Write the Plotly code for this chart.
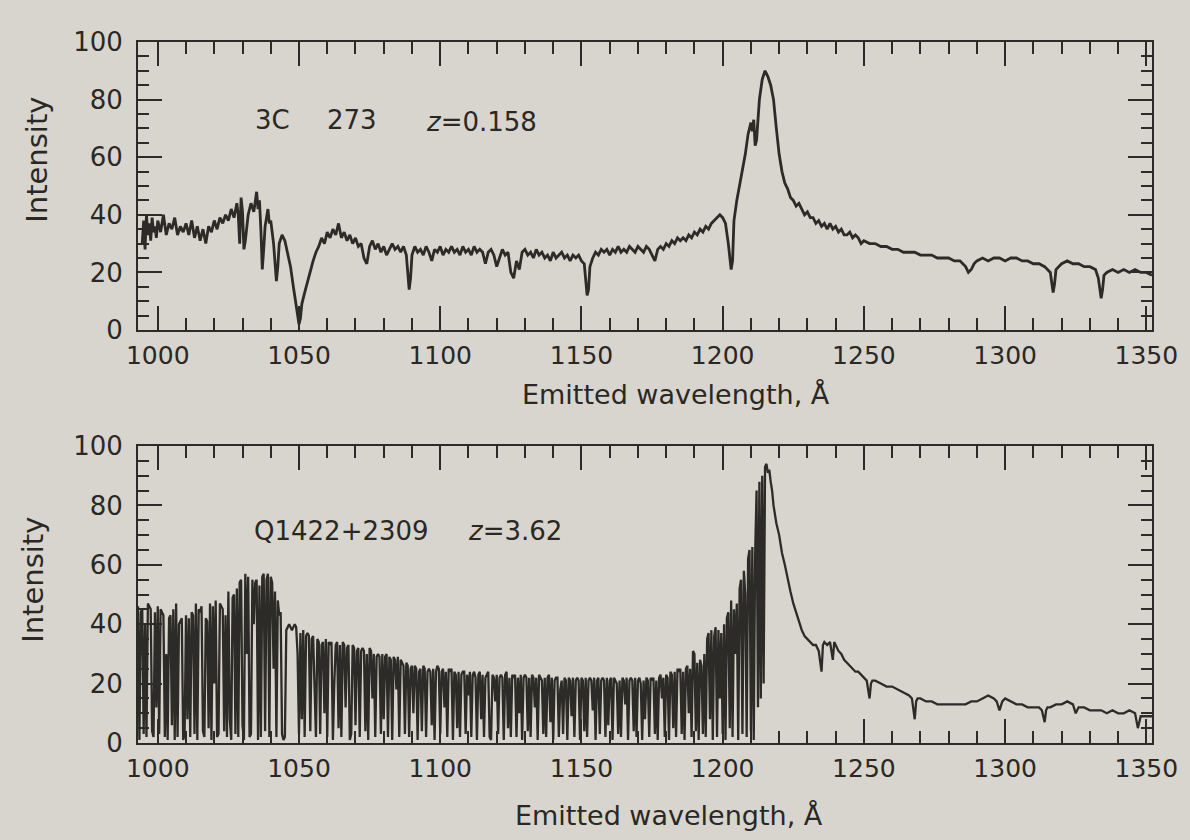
import plotly.graph_objects as go

# ---------------- data: 3C 273 (z = 0.158) ----------------
top_wave = [
    994.5, 995, 995.5, 996, 996.5, 997, 997.5, 998, 998.5, 999,
    999.5, 1000, 1001, 1002, 1003, 1004, 1005, 1006, 1007, 1008,
    1009, 1010, 1011, 1012, 1013, 1014, 1015, 1016, 1017, 1018,
    1019, 1020, 1021, 1022, 1023, 1024, 1025, 1026, 1027, 1028,
    1028.5, 1029, 1029.5, 1030, 1030.5, 1031, 1032, 1033, 1034, 1035,
    1035.5, 1036, 1036.5, 1037, 1037.5, 1038, 1039, 1039.5, 1040, 1041,
    1042, 1042.5, 1043, 1044, 1045, 1046, 1047, 1048, 1049, 1050,
    1050.5, 1051, 1052, 1053, 1054, 1055, 1056, 1057, 1058, 1059,
    1060, 1061, 1062, 1063, 1064, 1065, 1066, 1067, 1068, 1069,
    1070, 1071, 1072, 1073, 1074, 1075, 1076, 1077, 1078, 1079,
    1080, 1081, 1082, 1083, 1084, 1085, 1086, 1087, 1088, 1089,
    1089.5, 1090, 1091, 1092, 1093, 1094, 1095, 1096, 1097, 1098,
    1099, 1100, 1101, 1102, 1103, 1104, 1105, 1106, 1107, 1108,
    1109, 1110, 1111, 1112, 1113, 1114, 1115, 1116, 1117, 1118,
    1119, 1120, 1121, 1122, 1123, 1124, 1125, 1126, 1127, 1128,
    1129, 1130, 1131, 1132, 1133, 1134, 1135, 1136, 1137, 1138,
    1139, 1140, 1141, 1142, 1143, 1144, 1145, 1146, 1147, 1148,
    1149, 1150, 1151, 1152, 1152.5, 1153, 1154, 1155, 1156, 1157,
    1158, 1159, 1160, 1161, 1162, 1163, 1164, 1165, 1166, 1167,
    1168, 1169, 1170, 1171, 1172, 1173, 1174, 1175, 1176, 1177,
    1178, 1179, 1180, 1181, 1182, 1183, 1184, 1185, 1186, 1187,
    1188, 1189, 1190, 1191, 1192, 1193, 1194, 1195, 1196, 1197,
    1198, 1199, 1200, 1201, 1202, 1203, 1203.5, 1204, 1205, 1206,
    1207, 1208, 1209, 1210, 1210.5, 1211, 1211.5, 1212, 1213, 1214,
    1215, 1216, 1217, 1218, 1219, 1220, 1221, 1222, 1223, 1224,
    1225, 1226, 1227, 1228, 1229, 1230, 1231, 1232, 1233, 1234,
    1235, 1236, 1237, 1238, 1239, 1240, 1241, 1242, 1243, 1244,
    1245, 1246, 1247, 1248, 1249, 1250, 1252, 1254, 1256, 1258,
    1260, 1262, 1264, 1266, 1268, 1270, 1272, 1274, 1276, 1278,
    1280, 1282, 1284, 1286, 1287, 1288, 1289, 1290, 1292, 1294,
    1296, 1298, 1300, 1302, 1304, 1306, 1308, 1310, 1312, 1314,
    1316, 1317, 1317.5, 1318, 1320, 1322, 1324, 1326, 1328, 1330,
    1332, 1333, 1334, 1334.5, 1335, 1336, 1338, 1340, 1342, 1344,
    1346, 1348, 1350, 1352,
]
top_int = [
    30, 38, 28, 40, 33, 37, 31, 39, 34, 36,
    32, 38, 34, 40, 33, 37, 35, 39, 33, 36,
    34, 37, 33, 38, 32, 36, 31, 35, 30, 36,
    34, 38, 35, 39, 37, 40, 38, 42, 39, 44,
    40, 30, 46, 41, 28, 31, 40, 44, 41, 48,
    42, 45, 35, 21, 28, 36, 42, 37, 38, 30,
    17, 22, 30, 33, 31, 27, 22, 15, 8, 2,
    4, 9, 13, 17, 20, 24, 27, 29, 32, 30,
    34, 32, 35, 33, 37, 32, 34, 31, 33, 30,
    32, 29, 30, 25, 23, 29, 31, 28, 30, 27,
    29, 26, 28, 30, 28, 29, 27, 29, 26, 14,
    18, 26, 29, 27, 28, 26, 29, 27, 24, 28,
    27, 29, 26, 28, 27, 29, 27, 28, 26, 29,
    27, 28, 26, 29, 27, 28, 27, 23, 27, 28,
    26, 22, 25, 28, 26, 27, 20, 18, 24, 21,
    27, 28, 26, 27, 25, 28, 26, 27, 25, 26,
    24, 27, 25, 26, 27, 25, 26, 24, 26, 25,
    26, 24, 23, 12, 14, 22, 25, 27, 26, 28,
    27, 28, 26, 28, 27, 29, 27, 28, 27, 29,
    28, 27, 29, 28, 27, 29, 28, 26, 24, 28,
    29, 28, 30, 29, 31, 30, 32, 31, 32, 31,
    33, 32, 34, 33, 35, 34, 36, 35, 37, 38,
    39, 40, 39, 37, 30, 21, 24, 38, 45, 50,
    55, 61, 68, 72, 69, 73, 64, 66, 80, 87,
    90, 88, 85, 80, 70, 61, 55, 51, 49, 46,
    45, 43, 44, 42, 40, 41, 39, 39, 37, 38,
    36, 37, 35, 37, 35, 36, 34, 35, 33, 33,
    34, 32, 33, 32, 30, 31, 30, 30, 29, 29,
    28, 28, 27, 27, 27, 26, 26, 26, 25, 25,
    25, 24, 24, 22, 20, 21, 23, 24, 25, 24,
    25, 25, 24, 25, 25, 24, 24, 23, 23, 22,
    20, 13, 16, 21, 23, 24, 23, 23, 22, 22,
    21, 18, 11, 14, 19, 20, 21, 20, 21, 20,
    21, 20, 20, 19,
]

# ---------------- data: Q1422+2309 (z = 3.62) ----------------
bot_wave = [
    992.0, 992.5, 993.0, 993.5, 994.0, 994.5, 995.0, 995.5, 996.0, 996.5,
    997.0, 997.5, 998.0, 998.5, 999.0, 999.5, 1000.0, 1000.5, 1001.0, 1001.5,
    1002.0, 1002.5, 1003.0, 1003.5, 1004.0, 1004.5, 1005.0, 1005.5, 1006.0, 1006.5,
    1007.0, 1007.5, 1008.0, 1008.5, 1009.0, 1009.5, 1010.0, 1010.5, 1011.0, 1011.5,
    1012.0, 1012.5, 1013.0, 1013.5, 1014.0, 1014.5, 1015.0, 1015.5, 1016.0, 1016.5,
    1017.0, 1017.5, 1018.0, 1018.5, 1019.0, 1019.5, 1020.0, 1020.5, 1021.0, 1021.5,
    1022.0, 1022.5, 1023.0, 1023.5, 1024.0, 1024.5, 1025.0, 1025.5, 1026.0, 1026.5,
    1027.0, 1027.5, 1028.0, 1028.5, 1029.0, 1029.5, 1030.0, 1030.5, 1031.0, 1031.5,
    1032.0, 1032.5, 1033.0, 1033.5, 1034.0, 1034.5, 1035.0, 1035.5, 1036.0, 1036.5,
    1037.0, 1037.5, 1038.0, 1038.5, 1039.0, 1039.5, 1040.0, 1040.5, 1041.0, 1041.5,
    1042.0, 1042.5, 1043.0, 1043.5, 1044.0, 1044.5, 1045.0, 1045.5, 1046.0, 1046.5,
    1047.0, 1047.5, 1048.0, 1048.5, 1049.0, 1049.5, 1050.0, 1050.5, 1051.0, 1051.5,
    1052.0, 1052.5, 1053.0, 1053.5, 1054.0, 1054.5, 1055.0, 1055.5, 1056.0, 1056.5,
    1057.0, 1057.5, 1058.0, 1058.5, 1059.0, 1059.5, 1060.0, 1060.5, 1061.0, 1061.5,
    1062.0, 1062.5, 1063.0, 1063.5, 1064.0, 1064.5, 1065.0, 1065.5, 1066.0, 1066.5,
    1067.0, 1067.5, 1068.0, 1068.5, 1069.0, 1069.5, 1070.0, 1070.5, 1071.0, 1071.5,
    1072.0, 1072.5, 1073.0, 1073.5, 1074.0, 1074.5, 1075.0, 1075.5, 1076.0, 1076.5,
    1077.0, 1077.5, 1078.0, 1078.5, 1079.0, 1079.5, 1080.0, 1080.5, 1081.0, 1081.5,
    1082.0, 1082.5, 1083.0, 1083.5, 1084.0, 1084.5, 1085.0, 1085.5, 1086.0, 1086.5,
    1087.0, 1087.5, 1088.0, 1088.5, 1089.0, 1089.5, 1090.0, 1090.5, 1091.0, 1091.5,
    1092.0, 1092.5, 1093.0, 1093.5, 1094.0, 1094.5, 1095.0, 1095.5, 1096.0, 1096.5,
    1097.0, 1097.5, 1098.0, 1098.5, 1099.0, 1099.5, 1100.0, 1100.5, 1101.0, 1101.5,
    1102.0, 1102.5, 1103.0, 1103.5, 1104.0, 1104.5, 1105.0, 1105.5, 1106.0, 1106.5,
    1107.0, 1107.5, 1108.0, 1108.5, 1109.0, 1109.5, 1110.0, 1110.5, 1111.0, 1111.5,
    1112.0, 1112.5, 1113.0, 1113.5, 1114.0, 1114.5, 1115.0, 1115.5, 1116.0, 1116.5,
    1117.0, 1117.5, 1118.0, 1118.5, 1119.0, 1119.5, 1120.0, 1120.5, 1121.0, 1121.5,
    1122.0, 1122.5, 1123.0, 1123.5, 1124.0, 1124.5, 1125.0, 1125.5, 1126.0, 1126.5,
    1127.0, 1127.5, 1128.0, 1128.5, 1129.0, 1129.5, 1130.0, 1130.5, 1131.0, 1131.5,
    1132.0, 1132.5, 1133.0, 1133.5, 1134.0, 1134.5, 1135.0, 1135.5, 1136.0, 1136.5,
    1137.0, 1137.5, 1138.0, 1138.5, 1139.0, 1139.5, 1140.0, 1140.5, 1141.0, 1141.5,
    1142.0, 1142.5, 1143.0, 1143.5, 1144.0, 1144.5, 1145.0, 1145.5, 1146.0, 1146.5,
    1147.0, 1147.5, 1148.0, 1148.5, 1149.0, 1149.5, 1150.0, 1150.5, 1151.0, 1151.5,
    1152.0, 1152.5, 1153.0, 1153.5, 1154.0, 1154.5, 1155.0, 1155.5, 1156.0, 1156.5,
    1157.0, 1157.5, 1158.0, 1158.5, 1159.0, 1159.5, 1160.0, 1160.5, 1161.0, 1161.5,
    1162.0, 1162.5, 1163.0, 1163.5, 1164.0, 1164.5, 1165.0, 1165.5, 1166.0, 1166.5,
    1167.0, 1167.5, 1168.0, 1168.5, 1169.0, 1169.5, 1170.0, 1170.5, 1171.0, 1171.5,
    1172.0, 1172.5, 1173.0, 1173.5, 1174.0, 1174.5, 1175.0, 1175.5, 1176.0, 1176.5,
    1177.0, 1177.5, 1178.0, 1178.5, 1179.0, 1179.5, 1180.0, 1180.5, 1181.0, 1181.5,
    1182.0, 1182.5, 1183.0, 1183.5, 1184.0, 1184.5, 1185.0, 1185.5, 1186.0, 1186.5,
    1187.0, 1187.5, 1188.0, 1188.5, 1189.0, 1189.5, 1190.0, 1190.5, 1191.0, 1191.5,
    1192.0, 1192.5, 1193.0, 1193.5, 1194.0, 1194.5, 1195.0, 1195.5, 1196.0, 1196.5,
    1197.0, 1197.5, 1198.0, 1198.5, 1199.0, 1199.5, 1200.0, 1200.5, 1201.0, 1201.5,
    1202.0, 1202.5, 1203.0, 1203.5, 1204.0, 1204.5, 1205.0, 1205.5, 1206.0, 1206.5,
    1207.0, 1207.5, 1208.0, 1208.5, 1209.0, 1209.5, 1210.0, 1210.5, 1211.0, 1211.5,
    1212.0, 1212.5, 1213.0, 1213.5, 1214.0, 1214.5, 1215.0, 1215.5, 1216.0, 1216.5,
    1217.0, 1217.5, 1218.0, 1218.5, 1219.0, 1220.0, 1221.0, 1222.0, 1223.0, 1224.0,
    1225.0, 1226.0, 1227.0, 1228.0, 1229.0, 1230.0, 1231.0, 1232.0, 1233.0, 1234.0,
    1235.0, 1235.5, 1236.0, 1237.0, 1238.0, 1239.0, 1239.5, 1240.0, 1241.0, 1242.0,
    1243.0, 1244.0, 1245.0, 1246.0, 1247.0, 1248.0, 1249.0, 1250.0, 1251.0, 1252.0,
    1252.5, 1253.0, 1254.0, 1256.0, 1258.0, 1260.0, 1262.0, 1264.0, 1266.0, 1267.0,
    1268.0, 1268.5, 1269.0, 1270.0, 1272.0, 1274.0, 1276.0, 1278.0, 1280.0, 1282.0,
    1284.0, 1286.0, 1288.0, 1290.0, 1292.0, 1294.0, 1296.0, 1297.0, 1298.0, 1299.0,
    1300.0, 1302.0, 1304.0, 1306.0, 1308.0, 1310.0, 1312.0, 1313.0, 1314.0, 1314.5,
    1315.0, 1316.0, 1318.0, 1320.0, 1322.0, 1324.0, 1325.0, 1326.0, 1328.0, 1330.0,
    1332.0, 1334.0, 1336.0, 1338.0, 1340.0, 1342.0, 1344.0, 1346.0, 1347.0, 1348.0,
    1350.0, 1352.0,
]
bot_int = [
    43, 5, 46, 1, 44, 45, 3, 40, 2, 47,
    46, 45, 4, 2, 44, 12, 46, 3, 45, 44,
    43, 2, 30, 1, 42, 43, 6, 45, 1, 47,
    2, 40, 41, 42, 1, 3, 43, 8, 42, 2,
    44, 43, 3, 47, 1, 45, 44, 46, 4, 2,
    42, 41, 5, 47, 1, 46, 20, 48, 2, 3,
    47, 46, 45, 4, 43, 2, 51, 8, 1, 49,
    50, 3, 52, 2, 54, 55, 6, 1, 57, 30,
    56, 2, 3, 55, 40, 54, 55, 1, 53, 2,
    56, 57, 4, 55, 57, 2, 56, 54, 25, 51,
    2, 48, 43, 44, 3, 1, 2, 38, 39, 40,
    39, 38, 39, 40, 39, 30, 3, 37, 8, 38,
    2, 36, 37, 36, 4, 35, 36, 14, 2, 35,
    34, 3, 33, 34, 10, 35, 2, 34, 33, 34,
    1, 20, 33, 34, 5, 33, 2, 34, 33, 12,
    32, 33, 1, 3, 33, 32, 6, 31, 32, 2,
    31, 32, 31, 4, 30, 1, 32, 31, 15, 30,
    2, 29, 30, 29, 3, 30, 8, 29, 30, 2,
    29, 28, 1, 29, 28, 18, 29, 2, 28, 27,
    26, 3, 27, 26, 2, 25, 26, 10, 26, 25,
    1, 24, 25, 4, 26, 25, 2, 24, 25, 24,
    6, 25, 1, 24, 26, 25, 3, 24, 25, 12,
    24, 2, 25, 24, 25, 1, 24, 23, 5, 24,
    2, 23, 24, 24, 3, 23, 16, 24, 2, 23,
    24, 22, 1, 23, 24, 8, 23, 2, 22, 23,
    24, 2, 1, 23, 22, 14, 23, 3, 22, 23,
    22, 1, 23, 24, 5, 22, 2, 23, 22, 23,
    2, 22, 10, 23, 1, 22, 23, 22, 4, 22,
    2, 23, 22, 12, 22, 1, 23, 22, 21, 3,
    22, 2, 22, 23, 7, 22, 1, 21, 22, 22,
    2, 18, 21, 3, 22, 21, 1, 22, 21, 9,
    22, 2, 21, 22, 21, 1, 22, 21, 4, 22,
    2, 21, 22, 21, 11, 22, 1, 21, 22, 3,
    21, 22, 21, 2, 22, 6, 21, 22, 1, 22,
    21, 20, 3, 21, 2, 22, 21, 13, 22, 1,
    21, 22, 21, 4, 22, 2, 21, 22, 20, 1,
    21, 8, 22, 21, 2, 22, 21, 22, 3, 21,
    1, 22, 23, 15, 22, 2, 23, 22, 1, 24,
    23, 5, 24, 2, 25, 24, 25, 3, 24, 1,
    25, 26, 10, 25, 2, 31, 30, 4, 27, 1,
    28, 26, 3, 30, 2, 35, 37, 8, 38, 1,
    36, 39, 2, 38, 15, 37, 3, 40, 1, 42,
    44, 5, 48, 2, 45, 30, 47, 1, 52, 55,
    3, 58, 50, 2, 62, 65, 4, 66, 1, 64,
    85, 12, 88, 15, 90, 20, 93, 94, 91, 92,
    88, 85, 80, 77, 74, 70, 64, 60, 55, 51,
    47, 44, 41, 38, 36, 35, 34, 33, 33, 31,
    24, 33, 34, 33, 34, 28, 34, 33, 31, 30,
    28, 27, 26, 25, 24, 24, 23, 22, 21, 15,
    20, 21, 21, 20, 19, 19, 18, 17, 16, 15,
    8, 14, 15, 15, 14, 14, 13, 13, 13, 13,
    13, 13, 14, 14, 15, 16, 15, 14, 11, 14,
    15, 14, 13, 13, 12, 12, 12, 11, 7, 11,
    12, 12, 13, 13, 14, 13, 10, 12, 12, 11,
    11, 11, 10, 11, 10, 10, 11, 10, 5, 9,
    9, 9,
]

# axis ranges / tick spacing
x_range = [993, 1352]
y_range = [0, 100]
x_major, x_minor = 50, 10
y_major, y_minor = 20, 5

# labels
top_name = ["3C", "273", "<i>z</i>=0.158"]
bot_name = ["Q1422+2309", "<i>z</i>=3.62"]
x_title = "Emitted wavelength, Å"
y_title = "Intensity"

FONT = "DejaVu Sans"
INK = "#2d2b28"
TXT = "#2a2825"
BG = "#d8d5ce"

W, H = 1190, 840
ML, MR, MT, MB = 138, 30, 35, 97
PW, PH = W - ML - MR, H - MT - MB


def fx(px):
    return (px - ML) / PW


def fy(py):
    return (H - MB - py) / PH


def xaxis(anchor):
    return dict(
        range=x_range, tick0=1000, dtick=x_major, ticks="inside", ticklen=24,
        tickwidth=2, tickcolor=INK, showline=True, linecolor=INK, linewidth=2,
        mirror="allticks", showgrid=False, zeroline=False, anchor=anchor,
        minor=dict(tick0=1000, dtick=x_minor, ticks="inside", ticklen=12,
                   tickwidth=2, tickcolor=INK, showgrid=False),
        tickfont=dict(family=FONT, size=25, color=TXT), ticklabelstandoff=2,
    )


def yaxis(anchor, domain):
    return dict(
        range=y_range, tick0=0, dtick=y_major, ticks="inside", ticklen=24,
        tickwidth=2, tickcolor=INK, showline=True, linecolor=INK, linewidth=2,
        mirror="allticks", showgrid=False, zeroline=False, anchor=anchor,
        domain=domain,
        minor=dict(tick0=0, dtick=y_minor, ticks="inside", ticklen=11,
                   tickwidth=2, tickcolor=INK, showgrid=False),
        tickfont=dict(family=FONT, size=26, color=TXT), ticklabelstandoff=8,
    )


fig = go.Figure()
fig.add_trace(go.Scatter(x=top_wave, y=top_int, mode="lines",
                         line=dict(color=INK, width=2.8), xaxis="x", yaxis="y",
                         showlegend=False, hoverinfo="skip"))
fig.add_trace(go.Scatter(x=bot_wave, y=bot_int, mode="lines",
                         line=dict(color=INK, width=2.3), xaxis="x2", yaxis="y2",
                         showlegend=False, hoverinfo="skip"))

top_dom = [fy(330), fy(42)]
bot_dom = [fy(743), fy(446)]

ann = []


def text(s, px, py, size, xanchor="center", angle=0):
    ann.append(dict(text=s, x=fx(px), y=fy(py), xref="paper", yref="paper",
                    showarrow=False, xanchor=xanchor, yanchor="middle",
                    textangle=angle,
                    font=dict(family=FONT, size=size, color=TXT)))


text(x_title, 680, 394, 27)
text(x_title, 673, 815, 27)
text(y_title, 36, 160, 29, angle=-90)
text(y_title, 32, 580, 29, angle=-90)
text(top_name[0], 254, 120, 26, xanchor="left")
text(top_name[1], 326, 120, 26, xanchor="left")
text(top_name[2], 426, 122, 26, xanchor="left")
text(bot_name[0], 253, 531, 26, xanchor="left")
text(bot_name[1], 469, 531, 26, xanchor="left")

fig.update_layout(
    width=W, height=H,
    margin=dict(l=ML, r=MR, t=MT, b=MB),
    paper_bgcolor=BG, plot_bgcolor=BG,
    xaxis=xaxis("y"),
    yaxis=yaxis("x", top_dom),
    xaxis2=xaxis("y2"),
    yaxis2=yaxis("x2", bot_dom),
    annotations=ann,
    showlegend=False,
)

fig.write_html(
    "out.html",
    config={"displayModeBar": False},
    post_script="document.body.style.margin='0';document.body.style.background='%s';" % BG,
)
